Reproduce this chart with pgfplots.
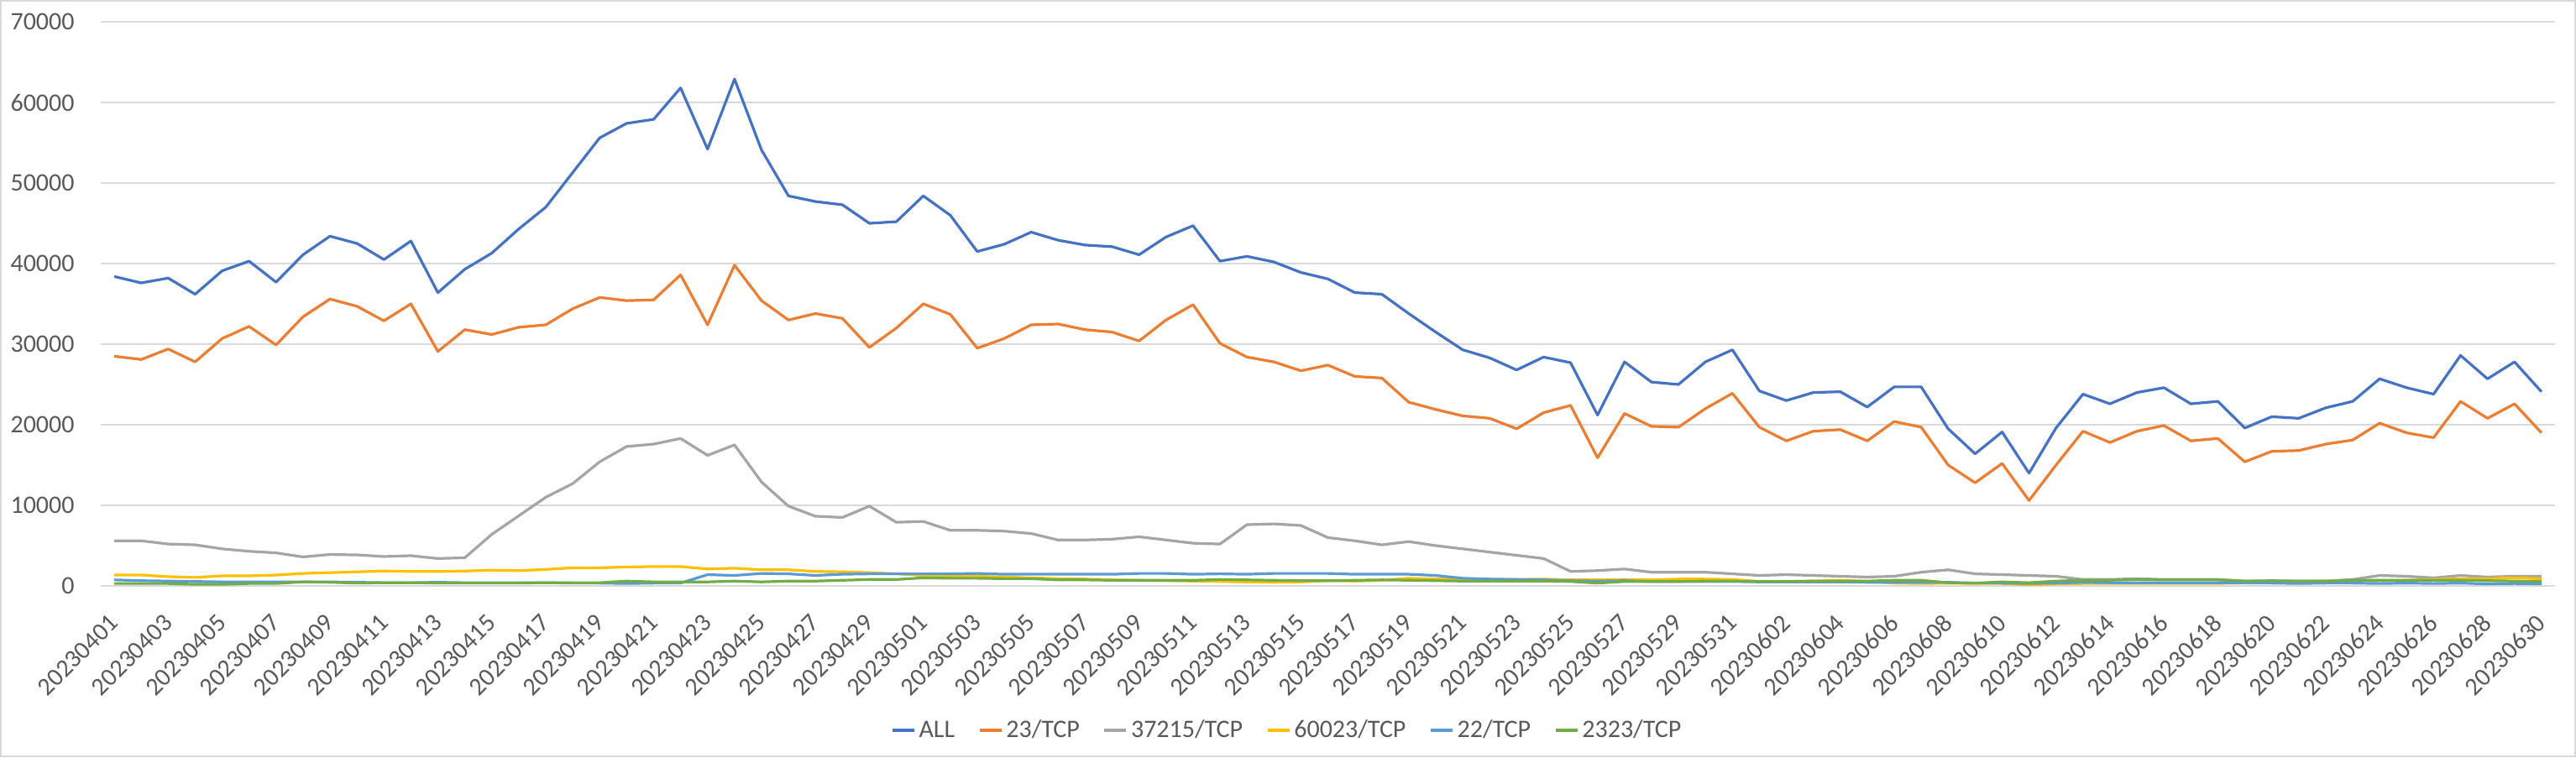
\documentclass[border=0pt]{standalone}
\usepackage{fontspec}
\setmainfont{Carlito}
\usepackage{pgfplots}
\usepackage{pgfplotstable}
\pgfplotsset{compat=1.18}
\definecolor{cALL}{HTML}{4472C4}
\definecolor{cA}{HTML}{ED7D31}
\definecolor{cB}{HTML}{A5A5A5}
\definecolor{cC}{HTML}{FFC000}
\definecolor{cD}{HTML}{5B9BD5}
\definecolor{cE}{HTML}{70AD47}
\definecolor{gridc}{HTML}{D9D9D9}
\definecolor{txt}{HTML}{595959}
\pgfplotstableread{
i all t23 t37215 t60023 t22 t2323
0 38400 28500 5600 1350 750 300
1 37600 28100 5600 1350 650 300
2 38200 29400 5200 1150 600 300
3 36200 27800 5100 1050 550 200
4 39100 30700 4600 1250 500 200
5 40300 32200 4300 1250 500 300
6 37700 29900 4100 1350 500 300
7 41100 33400 3600 1550 500 500
8 43400 35600 3900 1650 500 450
9 42500 34700 3850 1750 450 350
10 40500 32900 3650 1850 400 400
11 42800 35000 3750 1800 400 400
12 36400 29100 3400 1800 450 350
13 39300 31800 3500 1850 400 350
14 41300 31200 6400 1950 400 350
15 44300 32100 8700 1900 400 350
16 47000 32400 11000 2050 400 400
17 51300 34400 12700 2250 350 400
18 55600 35800 15400 2250 350 400
19 57400 35400 17300 2350 300 600
20 57900 35500 17600 2400 350 500
21 61800 38600 18300 2400 350 500
22 54200 32400 16200 2100 1400 500
23 62900 39800 17500 2200 1300 600
24 54100 35400 12900 2000 1550 500
25 48400 33000 9900 2000 1500 600
26 47700 33800 8650 1800 1300 600
27 47300 33200 8500 1750 1450 700
28 45000 29600 9900 1650 1500 800
29 45200 32000 7900 1500 1500 800
30 48400 35000 8000 1300 1500 1000
31 46000 33700 6900 1200 1500 950
32 41500 29500 6900 1200 1550 950
33 42400 30700 6800 1100 1450 900
34 43900 32400 6500 1000 1450 900
35 42900 32500 5700 900 1450 750
36 42300 31800 5700 850 1450 750
37 42100 31500 5800 750 1450 700
38 41100 30400 6100 700 1550 700
39 43300 33000 5700 650 1550 700
40 44700 34900 5300 600 1450 700
41 40300 30100 5200 550 1500 800
42 40900 28400 7600 500 1450 750
43 40200 27800 7700 450 1550 700
44 38900 26700 7500 500 1550 650
45 38100 27400 6000 650 1550 650
46 36400 26000 5600 600 1450 700
47 36200 25800 5100 700 1450 750
48 33800 22800 5500 950 1450 700
49 31500 21900 5000 850 1300 650
50 29300 21100 4600 850 950 600
51 28300 20800 4200 800 850 600
52 26800 19500 3800 800 800 600
53 28400 21500 3400 850 750 600
54 27700 22400 1800 750 650 550
55 21200 15900 1900 750 600 350
56 27800 21400 2100 800 650 550
57 25300 19800 1700 750 550 550
58 25000 19700 1700 850 550 550
59 27800 22000 1700 850 550 600
60 29300 23900 1500 800 550 600
61 24200 19700 1300 550 500 550
62 23000 18000 1400 550 500 550
63 24000 19200 1300 600 500 600
64 24100 19400 1200 700 500 600
65 22200 18000 1100 550 450 600
66 24700 20400 1200 350 450 700
67 24700 19700 1700 300 450 700
68 19500 15000 2000 350 450 400
69 16400 12800 1500 300 350 350
70 19100 15200 1400 300 350 500
71 14000 10600 1300 150 300 400
72 19600 15000 1200 250 350 600
73 23800 19200 800 300 450 700
74 22600 17800 800 300 400 700
75 24000 19200 900 300 400 800
76 24600 19900 800 300 400 750
77 22600 18000 800 300 400 750
78 22900 18300 800 300 400 750
79 19600 15400 600 400 350 600
80 21000 16700 600 450 350 650
81 20800 16800 600 500 300 600
82 22100 17600 600 600 350 600
83 22900 18100 800 650 350 700
84 25700 20200 1300 650 300 700
85 24600 19000 1200 700 350 700
86 23800 18400 1000 800 300 700
87 28600 22900 1300 900 350 700
88 25700 20800 1100 900 250 650
89 27800 22600 1200 1000 300 600
90 24100 19000 1200 900 250 550
}\datatable
\begin{document}
\begin{tikzpicture}
\useasboundingbox (0,0) rectangle (1534pt,451pt);
\draw[gridc, line width=1pt] (0.5pt,0.5pt) rectangle (1533.5pt,450.5pt);
\begin{axis}[
  at={(60pt,102pt)}, anchor=south west,
  scale only axis, width=1461.5pt, height=336pt,
  xmin=-0.5, xmax=90.5, ymin=0, ymax=70000,
  axis line style={draw=none},
  major tick length=0pt,
  ytick={0,10000,...,70000},
  scaled y ticks=false,
  ymajorgrids, grid style={gridc, line width=0.7pt},
  /pgf/number format/assume math mode=true,
  yticklabel style={font=\fontsize{15}{18}\selectfont, text=txt, inner sep=0pt, anchor=east, xshift=-15.5pt, /pgf/number format/fixed, /pgf/number format/1000 sep={}},
  xtick={0,2,...,90},
  xticklabels={20230401,20230403,20230405,20230407,20230409,20230411,20230413,20230415,20230417,20230419,20230421,20230423,20230425,20230427,20230429,20230501,20230503,20230505,20230507,20230509,20230511,20230513,20230515,20230517,20230519,20230521,20230523,20230525,20230527,20230529,20230531,20230602,20230604,20230606,20230608,20230610,20230612,20230614,20230616,20230618,20230620,20230622,20230624,20230626,20230628,20230630},
  xticklabel style={font=\fontsize{15}{18}\selectfont, text=txt, inner sep=0pt, anchor=east, yshift=-19.5pt, rotate=45},
  legend columns=6,
  legend style={at={(0.4837,-0.256)}, anchor=center, draw=none, fill=none,
    font=\fontsize{15}{18}\selectfont, text=txt,
    /tikz/every even column/.append style={column sep=12pt}},
  legend image code/.code={\draw[#1, line width=1.6pt] (0pt,0pt) -- (13pt,0pt);},
  every axis plot/.append style={line width=1.6pt, line join=round},
]
\addplot[cALL] table[x=i, y=all] {\datatable};
\addplot[cA] table[x=i, y=t23] {\datatable};
\addplot[cB] table[x=i, y=t37215] {\datatable};
\addplot[cC] table[x=i, y=t60023] {\datatable};
\addplot[cD] table[x=i, y=t22] {\datatable};
\addplot[cE] table[x=i, y=t2323] {\datatable};
\legend{ALL,23/TCP,37215/TCP,60023/TCP,22/TCP,2323/TCP}
\end{axis}
\end{tikzpicture}
\end{document}
